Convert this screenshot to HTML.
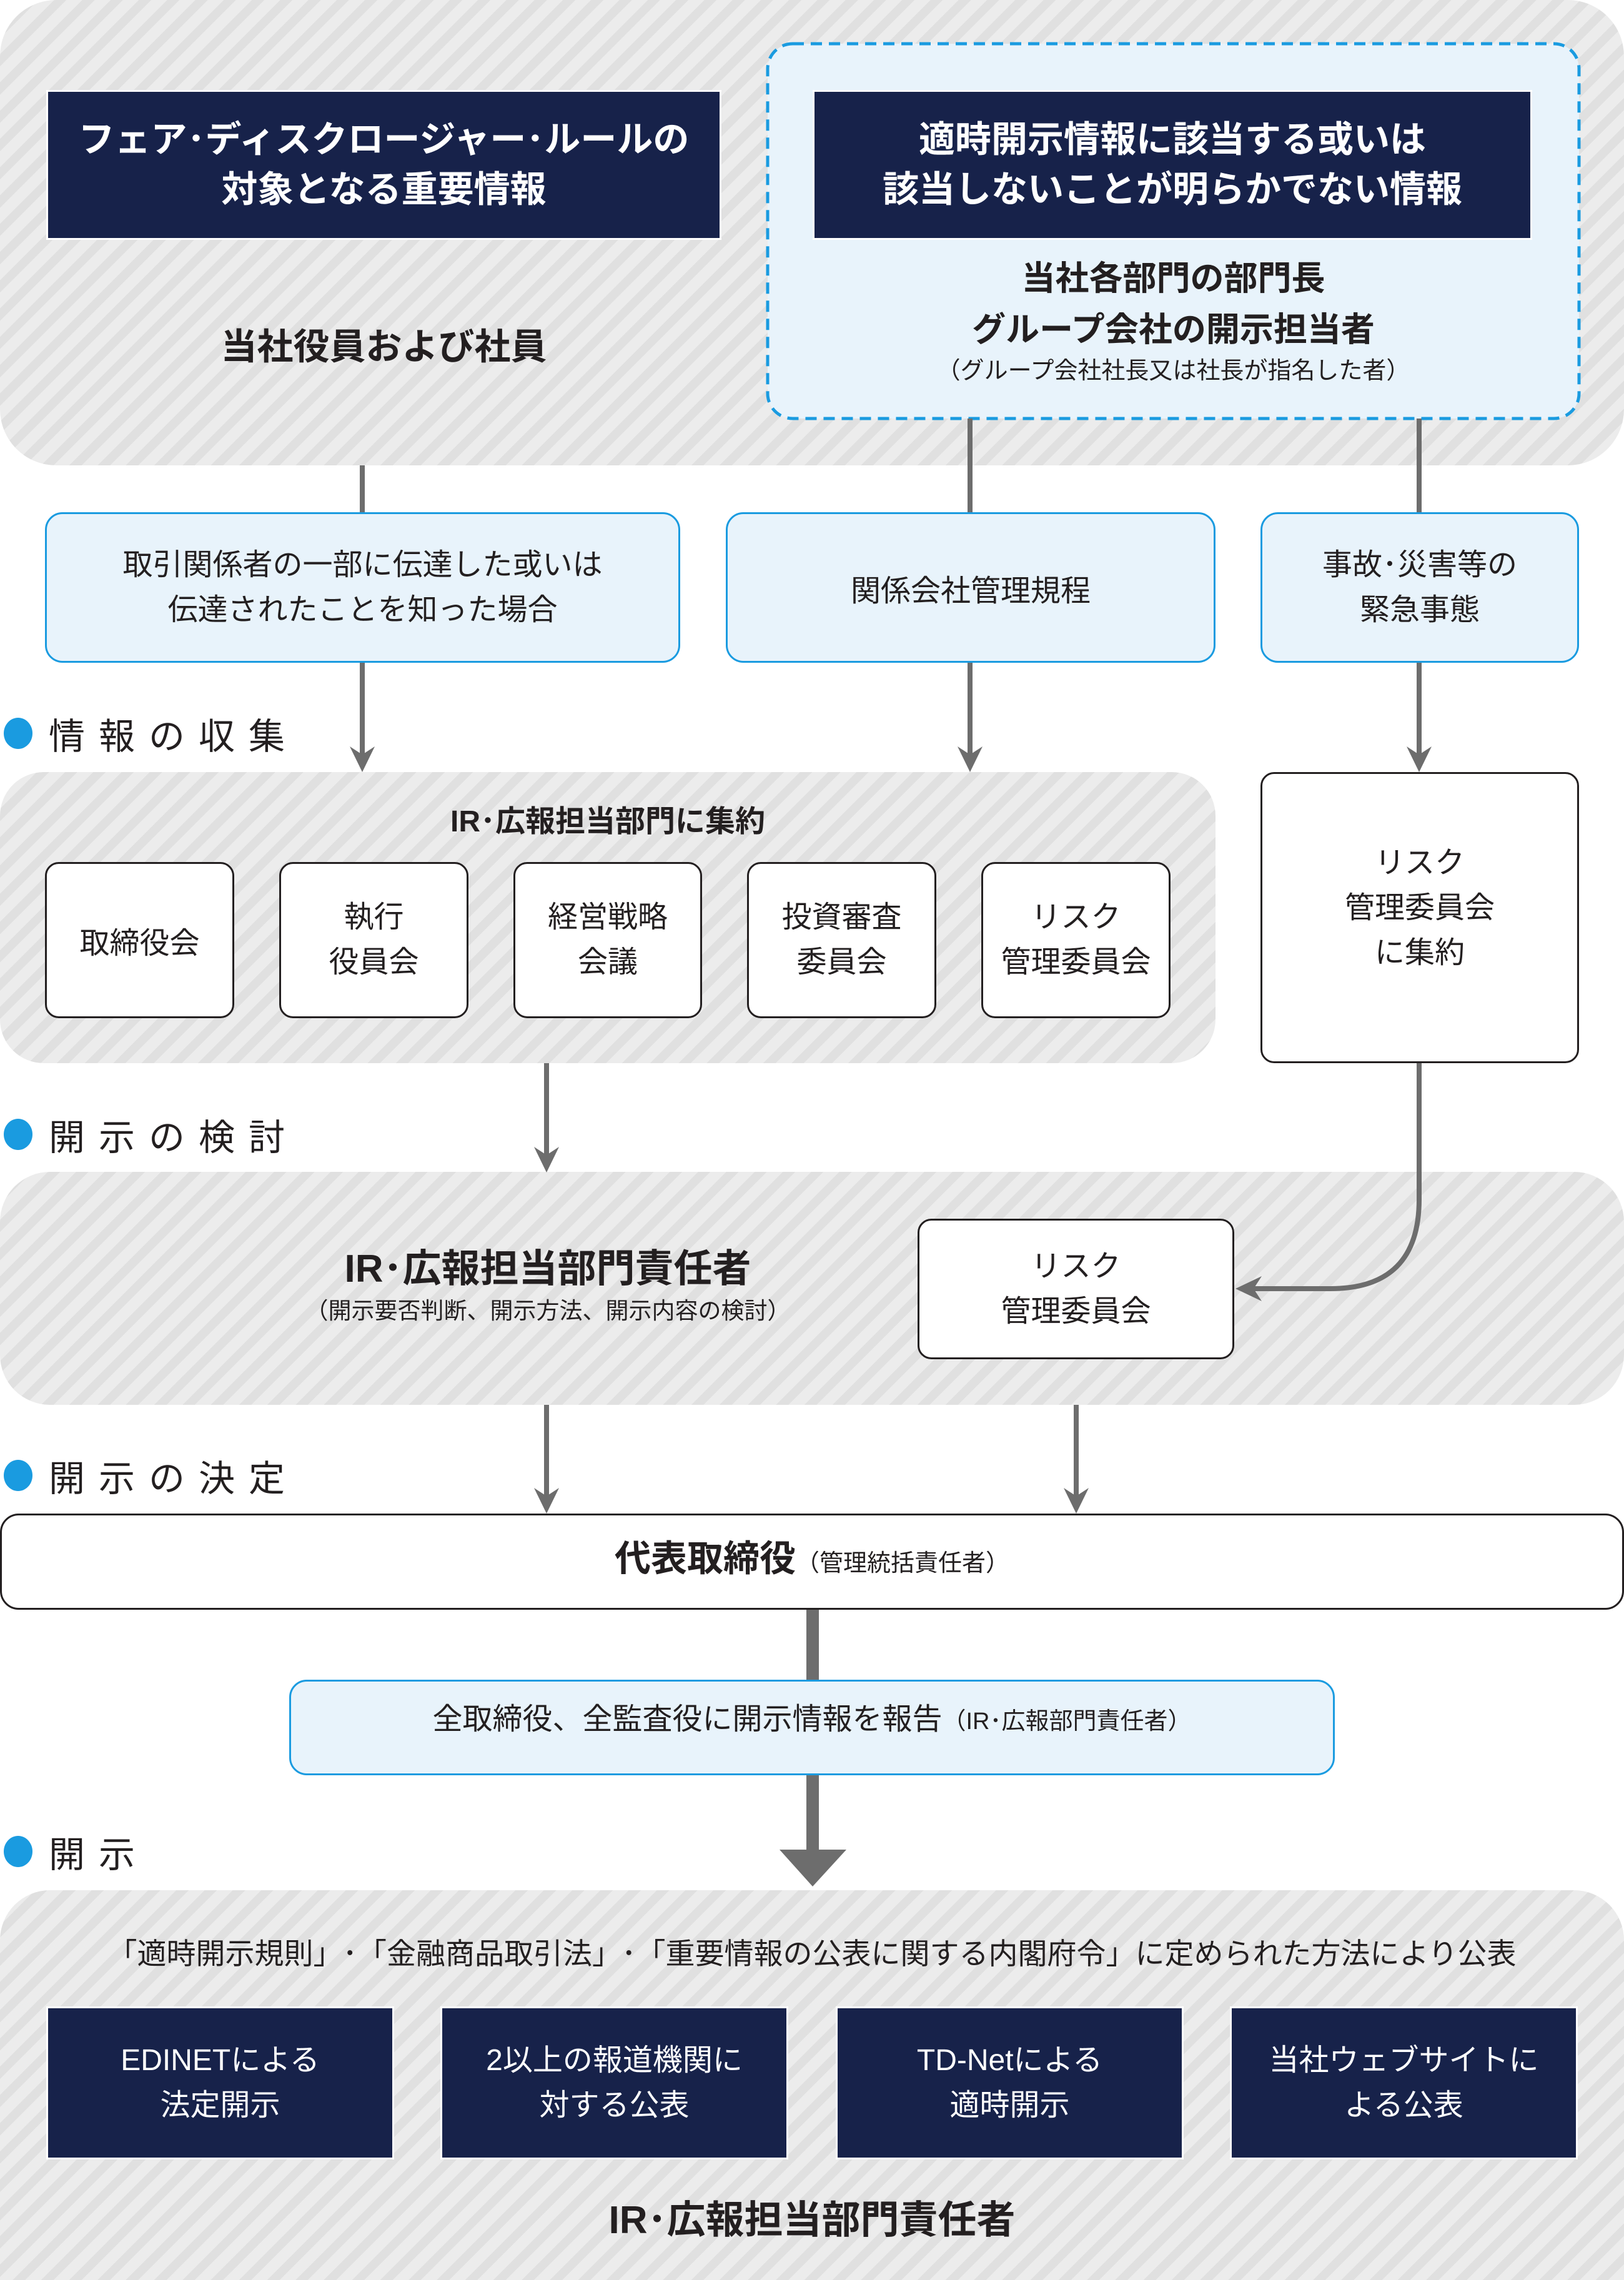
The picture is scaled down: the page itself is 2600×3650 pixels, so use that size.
<!DOCTYPE html>
<html><head><meta charset="utf-8"><style>
*{margin:0;padding:0;box-sizing:border-box}
body{width:2600px;height:3650px;background:#fff;position:relative;overflow:hidden;font-family:"Liberation Sans","Noto Sans CJK JP",sans-serif;color:#231f20}
.p{position:absolute;background:repeating-linear-gradient(-45deg,#ececec 0 18px,#e0e0e0 18px 32px)}
.a{position:absolute;display:flex;flex-direction:column;align-items:center;justify-content:center;text-align:center}
.navy{background:#17224a;color:#fff;border:3px solid #fff}
.lb{background:#e8f3fb;border:3px solid #1a9be0;border-radius:28px}
.wb{background:#fff;border:3px solid #231f20;border-radius:22px}
.lab{position:absolute;left:6px;font-size:58px;letter-spacing:22px;display:flex;align-items:center}
.lab i{display:inline-block;width:46px;height:50px;border-radius:50%;background:#1a9be0;margin-right:26px}
</style></head><body>
<div class="p" style="left:0;top:0;width:2600px;height:745px;border-radius:90px"></div>
<div class="a navy" style="left:74px;top:144px;width:1081px;height:240px;font-size:58px;font-weight:bold;line-height:80px">フェア･ディスクロージャー･ルールの<br>対象となる重要情報</div>
<div class="a" style="left:74px;top:495px;width:1081px;height:110px;font-size:58px;font-weight:bold">当社役員および社員</div>
<svg width="1307" height="608" style="position:absolute;left:1225px;top:66px"><rect x="4" y="4" width="1299" height="600" rx="40" fill="#e8f3fb" stroke="#1a9be0" stroke-width="5" stroke-dasharray="18 11"/></svg>
<div class="a navy" style="left:1301px;top:144px;width:1152px;height:240px;font-size:58px;font-weight:bold;line-height:80px">適時開示情報に該当する或いは<br>該当しないことが明らかでない情報</div>
<div class="a" style="left:1229px;top:395px;width:1299px;height:90px;font-size:54px;font-weight:bold">当社各部門の部門長</div>
<div class="a" style="left:1229px;top:477px;width:1299px;height:90px;font-size:54px;font-weight:bold">グループ会社の開示担当者</div>
<div class="a" style="left:1229px;top:562px;width:1299px;height:55px;font-size:38px">（グループ会社社長又は社長が指名した者）</div>

<div class="a lb" style="left:72px;top:820px;width:1017px;height:241px;font-size:48px;line-height:72px">取引関係者の一部に伝達した或いは<br>伝達されたことを知った場合</div>
<div class="a lb" style="left:1162px;top:820px;width:784px;height:241px;font-size:48px">関係会社管理規程</div>
<div class="a lb" style="left:2018px;top:820px;width:510px;height:241px;font-size:48px;line-height:72px">事故･災害等の<br>緊急事態</div>

<div class="lab" style="top:1132px"><i></i>情報の収集</div>
<div class="p" style="left:0;top:1236px;width:1946px;height:466px;border-radius:70px"></div>
<div class="a" style="left:0;top:1275px;width:1946px;height:70px;font-size:48px;font-weight:bold">IR･広報担当部門に集約</div>
<div class="a wb" style="left:72px;top:1380px;width:303px;height:250px;font-size:48px">取締役会</div>
<div class="a wb" style="left:447px;top:1380px;width:303px;height:250px;font-size:48px;line-height:72px">執行<br>役員会</div>
<div class="a wb" style="left:822px;top:1380px;width:302px;height:250px;font-size:48px;line-height:72px">経営戦略<br>会議</div>
<div class="a wb" style="left:1196px;top:1380px;width:303px;height:250px;font-size:48px;line-height:72px">投資審査<br>委員会</div>
<div class="a wb" style="left:1571px;top:1380px;width:303px;height:250px;font-size:48px;line-height:72px">リスク<br>管理委員会</div>
<div class="a wb" style="left:2018px;top:1236px;width:510px;height:466px;font-size:48px;line-height:72px;padding-bottom:30px">リスク<br>管理委員会<br>に集約</div>

<div class="lab" style="top:1774px"><i></i>開示の検討</div>
<div class="p" style="left:0;top:1876px;width:2600px;height:373px;border-radius:80px"></div>
<div class="a" style="left:0;top:1985px;width:1754px;height:80px;font-size:62px;font-weight:bold">IR･広報担当部門責任者</div>
<div class="a" style="left:0;top:2070px;width:1754px;height:50px;font-size:37px">（開示要否判断、開示方法、開示内容の検討）</div>
<div class="a wb" style="left:1469px;top:1951px;width:507px;height:225px;font-size:48px;line-height:72px">リスク<br>管理委員会</div>

<div class="lab" style="top:2320px"><i></i>開示の決定</div>
<div class="a" style="left:0;top:2423px;width:2600px;height:154px;border:3px solid #231f20;border-radius:30px;background:#fff;flex-direction:row;align-items:baseline;padding-top:22px;justify-content:center"><span style="font-size:58px;font-weight:bold">代表取締役</span><span style="font-size:38px">（管理統括責任者）</span></div>
<div class="a lb" style="left:463px;top:2689px;width:1674px;height:153px;flex-direction:row;align-items:baseline;padding-top:20px"><span style="font-size:48px">全取締役、全監査役に開示情報を報告</span><span style="font-size:38px">（IR･広報部門責任者）</span></div>

<div class="lab" style="top:2922px"><i></i>開示</div>
<div class="p" style="left:0;top:3026px;width:2600px;height:624px;border-radius:80px 80px 0 0"></div>
<div class="a" style="left:0;top:3090px;width:2600px;height:66px;font-size:47px">「適時開示規則」･「金融商品取引法」･「重要情報の公表に関する内閣府令」に定められた方法により公表</div>
<div class="a navy" style="left:74px;top:3212px;width:557px;height:245px;font-size:48px;line-height:72px">EDINETによる<br>法定開示</div>
<div class="a navy" style="left:705px;top:3212px;width:557px;height:245px;font-size:48px;line-height:72px">2以上の報道機関に<br>対する公表</div>
<div class="a navy" style="left:1338px;top:3212px;width:557px;height:245px;font-size:48px;line-height:72px">TD-Netによる<br>適時開示</div>
<div class="a navy" style="left:1969px;top:3212px;width:557px;height:245px;font-size:48px;line-height:72px">当社ウェブサイトに<br>よる公表</div>
<div class="a" style="left:0;top:3505px;width:2600px;height:85px;font-size:62px;font-weight:bold">IR･広報担当部門責任者</div>

<svg width="2600" height="3650" style="position:absolute;left:0;top:0" fill="none">
<g stroke="#6d6d6d" stroke-width="8">
<line x1="580" y1="745" x2="580" y2="820"/>
<line x1="1553" y1="670" x2="1553" y2="820"/>
<line x1="2272" y1="670" x2="2272" y2="820"/>
<line x1="580" y1="1061" x2="580" y2="1215"/>
<line x1="1553" y1="1061" x2="1553" y2="1215"/>
<line x1="2272" y1="1061" x2="2272" y2="1215"/>
<line x1="875" y1="1702" x2="875" y2="1858"/>
<path d="M2272 1702 V1920 Q2272 2063 2130 2063 H2000"/>
<line x1="875" y1="2249" x2="875" y2="2402"/>
<line x1="1723" y1="2249" x2="1723" y2="2402"/>
</g>
<g fill="#6d6d6d">
<path d="M560 1195 L580 1236 L600 1195 L580 1208Z"/>
<path d="M1533 1195 L1553 1236 L1573 1195 L1553 1208Z"/>
<path d="M2252 1195 L2272 1236 L2292 1195 L2272 1208Z"/>
<path d="M855 1836 L875 1877 L895 1836 L875 1849Z"/>
<path d="M855 2382 L875 2423 L895 2382 L875 2395Z"/>
<path d="M1703 2382 L1723 2423 L1743 2382 L1723 2395Z"/>
<path d="M2020 2043 L1978 2063 L2020 2083 L2007 2063Z"/>
<rect x="1291" y="2577" width="20" height="112"/>
<rect x="1291" y="2842" width="20" height="122"/>
<path d="M1248 2961 H1355 L1301 3020Z"/>
</g>
</svg>
</body></html>
